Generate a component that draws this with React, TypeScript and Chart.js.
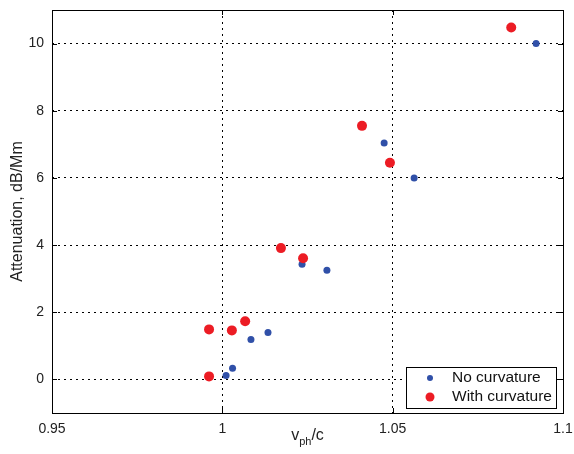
import React, { useEffect, useRef } from "react";
import { Chart, registerables } from "chart.js";

Chart.register(...registerables);

const noCurvX = [1.0011, 1.003, 1.0084, 1.0134, 1.0234, 1.0307, 1.0475, 1.0563, 1.0921];
const noCurvY = [0.12, 0.33, 1.19, 1.4, 3.43, 3.25, 7.04, 6.0, 10.0];
const withCurvX = [0.9961, 0.9961, 1.0028, 1.0067, 1.0172, 1.0237, 1.041, 1.0492, 1.0848];
const withCurvY = [0.09, 1.49, 1.46, 1.73, 3.91, 3.61, 7.55, 6.45, 10.48];
const xTicks = [0.95, 1, 1.05, 1.1];
const yTicks = [0, 2, 4, 6, 8, 10];
const seriesNames = ["No curvature", "With curvature"];

const BLUE = "rgb(48,80,168)";
const RED = "rgb(236,28,36)";
const FONT = "Liberation Sans, Arial, sans-serif";

const framePlugin = {
  id: "frame",
  afterDraw(chart: any) {
    const { ctx, chartArea: a, scales } = chart;
    ctx.save();
    ctx.strokeStyle = "#000";
    ctx.lineWidth = 1;
    ctx.strokeRect(Math.round(a.left) + 0.5, Math.round(a.top) + 0.5, Math.round(a.right - a.left), Math.round(a.bottom - a.top));
    // inward ticks
    const tl = 5;
    ctx.beginPath();
    xTicks.forEach((v) => {
      const px = Math.round(scales.x.getPixelForValue(v)) + 0.5;
      ctx.moveTo(px, a.bottom);
      ctx.lineTo(px, a.bottom - tl);
      ctx.moveTo(px, a.top);
      ctx.lineTo(px, a.top + tl);
    });
    yTicks.forEach((v) => {
      const py = Math.round(scales.y.getPixelForValue(v)) + 0.5;
      ctx.moveTo(a.left, py);
      ctx.lineTo(a.left + tl, py);
      ctx.moveTo(a.right, py);
      ctx.lineTo(a.right - tl, py);
    });
    ctx.stroke();

    // x title with subscript
    ctx.fillStyle = "#222";
    ctx.textBaseline = "alphabetic";
    ctx.textAlign = "left";
    const big = "16px " + FONT;
    const small = "11px " + FONT;
    ctx.font = big;
    const wv = ctx.measureText("v").width;
    const wc = ctx.measureText("/c").width;
    ctx.font = small;
    const wp = ctx.measureText("ph").width;
    const total = wv + wp + wc;
    let x0 = (a.left + a.right) / 2 - total / 2;
    const by = 440;
    ctx.font = big;
    ctx.fillText("v", x0, by);
    x0 += wv;
    ctx.font = small;
    ctx.fillText("ph", x0, by + 5);
    x0 += wp;
    ctx.font = big;
    ctx.fillText("/c", x0, by);

    // legend box (bottom-right inside plot area)
    const lw = 150, lh = 41;
    const lx = Math.round(a.right) - 7 - lw, ly = Math.round(a.bottom) - 5 - lh;
    ctx.fillStyle = "#fff";
    ctx.fillRect(lx, ly, lw, lh);
    ctx.strokeStyle = "#000";
    ctx.strokeRect(lx + 0.5, ly + 0.5, lw, lh);
    ctx.fillStyle = BLUE;
    ctx.beginPath();
    ctx.arc(lx + 24, ly + 11, 3, 0, Math.PI * 2);
    ctx.fill();
    ctx.fillStyle = RED;
    ctx.beginPath();
    ctx.arc(lx + 24, ly + 30, 4.5, 0, Math.PI * 2);
    ctx.fill();
    ctx.fillStyle = "#111";
    ctx.font = "15.5px " + FONT;
    ctx.textBaseline = "middle";
    ctx.fillText(seriesNames[0], lx + 46, ly + 11);
    ctx.fillText(seriesNames[1], lx + 46, ly + 30);
    ctx.restore();
  },
};

export default function App() {
  const ref = useRef<HTMLCanvasElement>(null);
  useEffect(() => {
    const chart = new Chart(ref.current!, {
      type: "scatter",
      data: {
        datasets: [
          {
            label: seriesNames[1],
            data: withCurvX.map((x, i) => ({ x, y: withCurvY[i] })),
            backgroundColor: RED,
            borderColor: RED,
            pointRadius: 5,
            borderWidth: 0,
          },
          {
            label: seriesNames[0],
            data: noCurvX.map((x, i) => ({ x, y: noCurvY[i] })),
            backgroundColor: BLUE,
            borderColor: BLUE,
            pointRadius: 3.5,
            borderWidth: 0,
          },
        ],
      },
      plugins: [framePlugin],
      options: {
        animation: false,
        responsive: false,
        layout: { padding: { top: 10, right: 11, left: 0, bottom: 0 } },
        plugins: { legend: { display: false }, tooltip: { enabled: false } },
        scales: {
          x: {
            type: "linear",
            min: 0.95,
            max: 1.1,
            afterBuildTicks: (s: any) => {
              s.ticks = xTicks.map((v) => ({ value: v }));
            },
            afterFit: (s: any) => {
              s.height = 41;
              s.paddingLeft = 0;
              s.paddingRight = 0;
            },
            grid: {
              color: (c: any) => (c.tick && (c.tick.value === 0.95 || c.tick.value === 1.1) ? "rgba(0,0,0,0)" : "#000"),
              borderDash: [2, 4],
              drawTicks: false,
              lineWidth: 1,
            },
            border: { display: false, dash: [2, 4] },
            ticks: {
              color: "#222",
              font: { family: FONT, size: 14 },
              padding: 8,
              callback: (v: any) => String(v),
            },
          },
          y: {
            type: "linear",
            min: -1,
            max: 11,
            afterBuildTicks: (s: any) => {
              s.ticks = yTicks.map((v) => ({ value: v }));
            },
            afterFit: (s: any) => {
              s.width = 52;
              s.paddingTop = 0;
              s.paddingBottom = 0;
            },
            grid: { color: "#000", borderDash: [2, 4], drawTicks: false, lineWidth: 1 },
            border: { display: false, dash: [2, 4] },
            title: {
              display: true,
              text: "Attenuation, dB/Mm",
              color: "#222",
              font: { family: FONT, size: 16 },
              padding: { top: 8, bottom: 0 },
            },
            ticks: {
              color: "#222",
              font: { family: FONT, size: 14 },
              padding: 8,
            },
          },
        },
      } as any,
    });
    return () => chart.destroy();
  }, []);
  return (
    <div style={{ position: "fixed", left: 0, top: 0, width: 574, height: 454, background: "#fff" }}>
      <canvas ref={ref} width={574} height={454} style={{ width: 574, height: 454 }} />
    </div>
  );
}
